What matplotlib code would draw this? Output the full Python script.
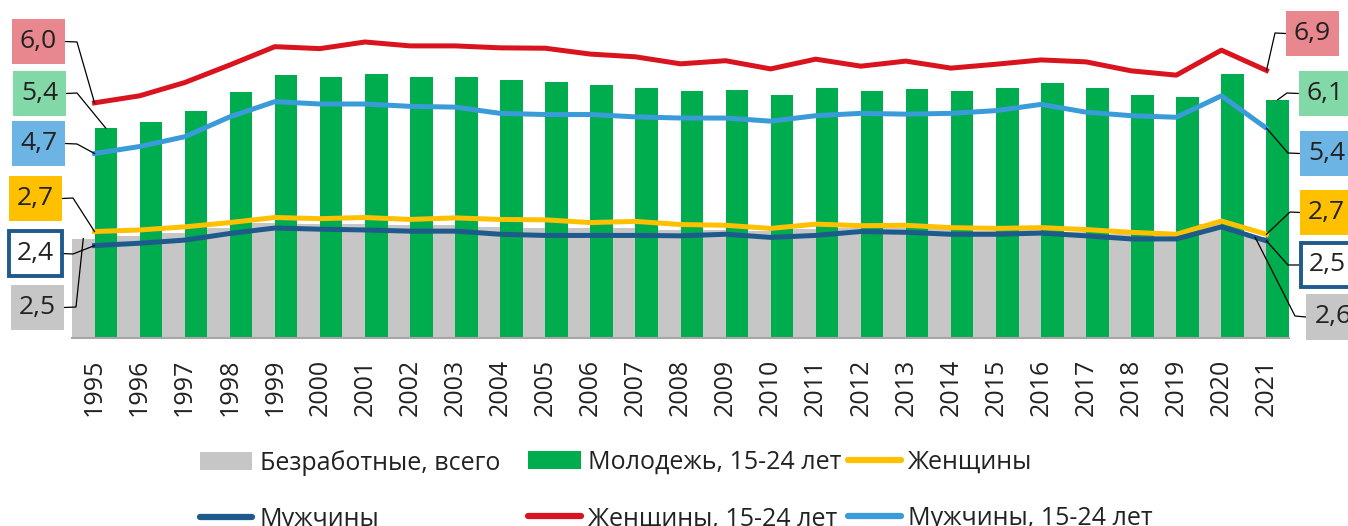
import matplotlib
matplotlib.use('Agg')
import matplotlib.pyplot as plt
import numpy as np
from matplotlib.lines import Line2D
from matplotlib.patches import Patch, Rectangle
from matplotlib.transforms import IdentityTransform

plt.rcParams['font.family'] = ['Open Sans', 'DejaVu Sans']

years = list(range(1995, 2022))
total = [2.55, 2.62, 2.68, 2.83, 2.94, 2.93, 2.92, 2.90, 2.91, 2.85, 2.83, 2.81, 2.81, 2.76,
         2.77, 2.74, 2.79, 2.83, 2.83, 2.79, 2.74, 2.76, 2.72, 2.66, 2.65, 2.92, 2.58]
youth = [5.38, 5.55, 5.81, 6.31, 6.74, 6.70, 6.78, 6.69, 6.70, 6.61, 6.57, 6.48, 6.42, 6.33,
         6.36, 6.22, 6.40, 6.34, 6.38, 6.34, 6.42, 6.53, 6.42, 6.24, 6.17, 6.76, 6.11]
women = [2.73, 2.77, 2.85, 2.96, 3.09, 3.06, 3.09, 3.04, 3.08, 3.04, 3.03, 2.96, 2.99, 2.91,
         2.89, 2.81, 2.92, 2.88, 2.89, 2.83, 2.81, 2.83, 2.78, 2.71, 2.66, 3.00, 2.66]
men = [2.37, 2.43, 2.51, 2.68, 2.82, 2.79, 2.77, 2.74, 2.74, 2.66, 2.63, 2.63, 2.63, 2.62,
       2.66, 2.58, 2.63, 2.73, 2.71, 2.66, 2.66, 2.69, 2.62, 2.54, 2.54, 2.85, 2.49]
women_youth = [6.03, 6.21, 6.55, 7.00, 7.47, 7.42, 7.59, 7.49, 7.49, 7.44, 7.43, 7.28, 7.21, 7.03,
               7.11, 6.90, 7.15, 6.97, 7.10, 6.92, 7.02, 7.13, 7.08, 6.85, 6.74, 7.38, 6.86]
men_youth = [4.73, 4.91, 5.16, 5.67, 6.06, 6.00, 6.00, 5.94, 5.92, 5.76, 5.73, 5.73, 5.67, 5.64,
             5.64, 5.56, 5.70, 5.76, 5.74, 5.76, 5.83, 5.99, 5.79, 5.70, 5.66, 6.21, 5.38]

names = ['Безработные, всего', 'Молодежь, 15-24 лет', 'Женщины',
         'Мужчины', 'Женщины, 15-24 лет', 'Мужчины, 15-24 лет']

GRAY = '#C6C6C6'
GREEN = '#00AD4E'
YELLOW = '#FFC000'
DKBLUE = '#1F5A8C'
RED = '#D9141E'
LTBLUE = '#3A9BD9'
TEXT = '#222222'

W, H = 1348, 526
fig = plt.figure(figsize=(W / 100, H / 100), dpi=100)
ax = fig.add_axes([72 / W, (H - 338) / H, (1289 - 72) / W, 338 / H])

x = np.arange(len(years))
ax.bar(x, total, width=1.0, color=GRAY, zorder=1)
ax.bar(x + 0.25, youth, width=0.5, color=GREEN, zorder=2)
series_lines = [(women, YELLOW), (men, DKBLUE), (women_youth, RED), (men_youth, LTBLUE)]
for vals, col in series_lines:
    ax.plot(x, vals, color=col, lw=3.6, zorder=3, solid_joinstyle='round')

ax.set_xlim(-0.5, len(years) - 0.5)
ax.set_ylim(0, 338 / 39)
ax.set_yticks([])
ax.set_xticks(x)
ax.set_xticklabels([str(y) for y in years], rotation=90, fontsize=18, color=TEXT)
ax.tick_params(axis='x', length=0, pad=15)
for side in ['top', 'right', 'left']:
    ax.spines[side].set_visible(False)
ax.spines['bottom'].set_color('#A6A6A6')
ax.spines['bottom'].set_linewidth(1.5)

# value boxes at both ends: (series, index, x offset, face, edge, box px, bend px)
boxes = [
    (women_youth, 0, 0.0, '#E8888E', None, (12, 19, 65, 64), (77, 42)),
    (youth, 0, 0.25, '#82D8A6', None, (13, 71, 66, 116), (77, 93)),
    (men_youth, 0, 0.0, '#6CB4E4', None, (12, 121, 65, 166), (77, 144)),
    (women, 0, 0.0, YELLOW, None, (9, 176, 62, 221), (73, 198)),
    (men, 0, 0.0, 'white', DKBLUE, (9, 231, 62, 276), (73, 254)),
    (total, 0, -0.25, GRAY, None, (11, 285, 64, 330), (76, 307)),
    (women_youth, -1, 0.0, '#E8888E', None, (1286, 11, 1339, 56), (1275, 33)),
    (youth, -1, 0.25, '#82D8A6', None, (1299, 71, 1352, 116), (1287, 93)),
    (men_youth, -1, 0.0, '#6CB4E4', None, (1300, 131, 1353, 176), (1288, 153)),
    (women, -1, 0.0, YELLOW, None, (1300, 190, 1353, 235), (1290, 212)),
    (men, -1, 0.0, 'white', DKBLUE, (1301, 243, 1354, 287), (1288, 265)),
    (total, -1, -0.25, GRAY, None, (1306, 294, 1360, 340), (1295, 316)),
]
ident = IdentityTransform()
for vals, idx, dx, face, edge, (x0, y0, x1, y1), (bx, by) in boxes:
    v = vals[idx]
    px, py = ax.transData.transform((x[idx] + dx, v))
    left = idx == 0
    ex = x1 if left else x0
    ym = H - (y0 + y1) / 2
    fig.add_artist(Line2D([ex, bx, px], [ym, H - by, py], color='black', lw=0.9,
                          transform=ident, zorder=5))
    rect = Rectangle((x0, H - y1), x1 - x0, y1 - y0, facecolor=face,
                     edgecolor=edge if edge else 'none', lw=2.8 if edge else 0,
                     transform=ident, zorder=6)
    fig.add_artist(rect)
    fig.text((x0 + x1) / 2, ym, f'{v:.1f}'.replace('.', ','), transform=ident,
             ha='center', va='center', fontsize=19, color=TEXT, zorder=7)

handles = [
    Patch(facecolor=GRAY),
    Line2D([], [], color=DKBLUE, lw=4.5, solid_capstyle='round'),
    Patch(facecolor=GREEN),
    Line2D([], [], color=RED, lw=4.5, solid_capstyle='round'),
    Line2D([], [], color=YELLOW, lw=4.5, solid_capstyle='round'),
    Line2D([], [], color=LTBLUE, lw=4.5, solid_capstyle='round'),
]
labels = [names[0], names[3], names[1], names[4], names[2], names[5]]
for col, left_px in enumerate([200, 528, 848]):
    leg = fig.legend(handles[2 * col:2 * col + 2], labels[2 * col:2 * col + 2],
                     loc='upper left', bbox_to_anchor=(left_px / W, (H - 450) / H),
                     frameon=False, fontsize=18, ncol=1, borderpad=0, borderaxespad=0,
                     handlelength=2.1, handleheight=0.72, handletextpad=0.3,
                     labelspacing=1.25, labelcolor=TEXT)

fig.savefig('out.png', dpi=100)
